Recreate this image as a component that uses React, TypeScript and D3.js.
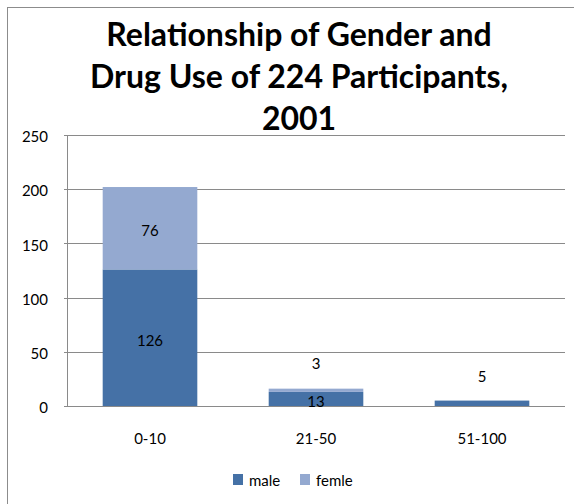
import React from "react";
import * as d3 from "d3";

const categories = ["0-10", "21-50", "51-100"];
const male = [126, 13, 5];
const female = [76, 3, 0];
const seriesNames = ["male", "femle"];
const yTicks = [0, 50, 100, 150, 200, 250];
const titleLines = ["Relationship of Gender and", "Drug Use of 224 Participants,", "2001"];

const COLORS = ["#4571A6", "#94A9D0"];
const FONT = "Lato, 'Liberation Sans', sans-serif";

export default function App() {
  const W = 574, H = 504;
  const plot = { left: 67, right: 565, top: 135, bottom: 406 };
  const x = d3.scaleBand<string>().domain(categories).range([plot.left, plot.right]).paddingInner(0.43).paddingOuter(0.215);
  const y = d3.scaleLinear().domain([0, 250]).range([plot.bottom, plot.top]);

  const rows = categories.map((c, i) => ({ cat: c, male: male[i], femle: female[i] }));
  const stack = d3.stack<any>().keys(seriesNames)(rows);

  return (
    <svg width={W} height={H} style={{ position: "absolute", left: 0, top: 0, fontFamily: FONT }}>
      <rect x={0} y={0} width={W} height={H} fill="#fff" />
      <rect x={7.5} y={7.5} width={640} height={640} fill="none" stroke="#8c8c8c" strokeWidth={1} />
      {titleLines.map((t, i) => (
        <text key={i} x={299} y={46 + i * 42} textAnchor="middle" fontSize={32} fontWeight={700} fill="#000">
          {t}
        </text>
      ))}
      {yTicks.map((t) => (
        <g key={t}>
          <line x1={plot.left - 3} x2={plot.right} y1={Math.round(y(t)) + 0.5} y2={Math.round(y(t)) + 0.5} stroke="#8a8a8a" strokeWidth={1} />
          <text x={48} y={y(t) + 2} dy="0.35em" textAnchor="end" fontSize={15} fill="#000">{t}</text>
        </g>
      ))}
      <line x1={plot.left + 0.5} x2={plot.left + 0.5} y1={plot.top} y2={plot.bottom} stroke="#8a8a8a" />
      {stack.map((s, si) => (
        <g key={s.key}>
          {s.map((d, i) => {
            const x0 = x(categories[i])!;
            const y0 = y(d[1]);
            const y1 = y(d[0]);
            return <rect key={i} x={x0} y={y0} width={x.bandwidth()} height={Math.max(0, y1 - y0)} fill={COLORS[si]} />;
          })}
        </g>
      ))}
      {stack.map((s, si) =>
        s.map((d, i) => {
          const v = d[1] - d[0];
          if (v === 0) return null;
          const cx = x(categories[i])! + x.bandwidth() / 2;
          const h = y(d[0]) - y(d[1]);
          const cy = (y(d[0]) + y(d[1])) / 2 + (h < 10 ? -27 : 3);
          return (
            <text key={`${si}-${i}`} x={cx} y={cy} dy="0.35em" textAnchor="middle" fontSize={15} fill="#000">
              {v}
            </text>
          );
        })
      )}
      {categories.map((c) => (
        <text key={c} x={x(c)! + x.bandwidth() / 2} y={439} dy="0.35em" textAnchor="middle" fontSize={15} fill="#000">
          {c}
        </text>
      ))}
      {seriesNames.map((n, i) => {
        const lx = i === 0 ? 233 : 300;
        return (
          <g key={n}>
            <rect x={lx} y={474} width={10} height={11} fill={COLORS[i]} />
            <text x={lx + 16} y={486} fontSize={15} fill="#000">{n}</text>
          </g>
        );
      })}
    </svg>
  );
}
